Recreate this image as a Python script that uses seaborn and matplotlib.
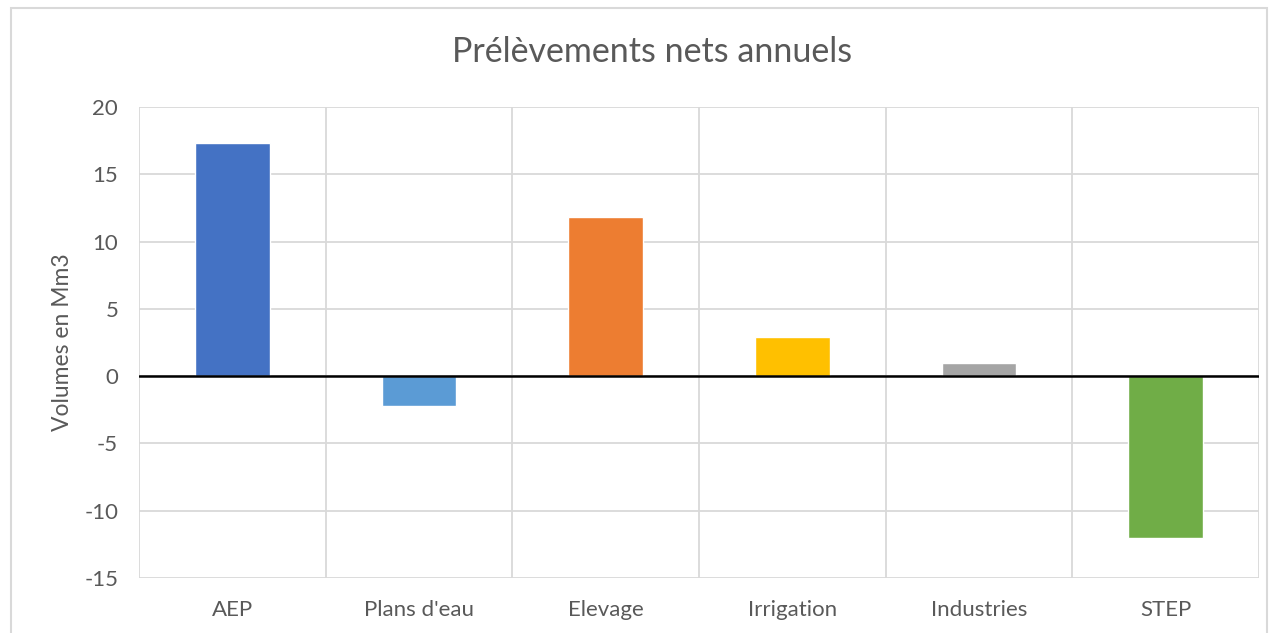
import pandas as pd
import numpy as np
import matplotlib.pyplot as plt
import matplotlib.patches as mpatches
import seaborn as sns

# données
categories = ['AEP', "Plans d'eau", 'Elevage', 'Irrigation', 'Industries', 'STEP']
volumes = [17.3, -2.2, 11.8, 2.9, 1.0, -12.0]
couleurs = ['#4472C4', '#5B9BD5', '#ED7D31', '#FFC000', '#A5A5A5', '#70AD47']
yticks = [-15, -10, -5, 0, 5, 10, 15, 20]

df = pd.DataFrame({'categorie': categories, 'volume': volumes})

sns.set_style('white')
plt.rcParams['font.family'] = ['Lato', 'DejaVu Sans']
plt.rcParams['axes.unicode_minus'] = False

fig = plt.figure(figsize=(12.71, 6.33), dpi=100)
ax = fig.add_axes([0.1094, 0.0869, 0.8812, 0.7441])

sns.barplot(data=df, x='categorie', y='volume', hue='categorie',
            palette=couleurs, saturation=1, width=0.4, legend=False, ax=ax, zorder=3)

gris = '#595959'
ax.set_ylim(-15, 20)
ax.set_yticks(yticks)
ax.set_xlim(-0.5, len(categories) - 0.5)
ax.set_xticks(np.arange(-0.5, len(categories)), minor=True)
ax.grid(True, which='major', axis='y', color='#D9D9D9', lw=1.3, zorder=0)
ax.grid(True, which='minor', axis='x', color='#D9D9D9', lw=1.3, zorder=0)
ax.axhline(0, color='black', lw=1.8, zorder=4)
for s in ax.spines.values():
    s.set_visible(False)
ax.tick_params(axis='both', which='both', length=0, colors=gris, labelsize=16)
ax.tick_params(axis='x', pad=16)
ax.tick_params(axis='y', pad=15)

ax.set_xlabel('')
ax.set_ylabel('Volumes en Mm3', fontsize=16.5, color=gris, labelpad=8)
fig.text(0.513, 0.918, 'Prélèvements nets annuels', ha='center', va='center',
         fontsize=24.5, color=gris)

# cadre du graphique
fig.patches.append(mpatches.Rectangle((11 / 1271, -0.02), 1256 / 1271, 1 - 8 / 633 + 0.02,
                                      transform=fig.transFigure, fill=False,
                                      edgecolor='#D9D9D9', lw=1.5))

fig.savefig('out.png', dpi=100)
